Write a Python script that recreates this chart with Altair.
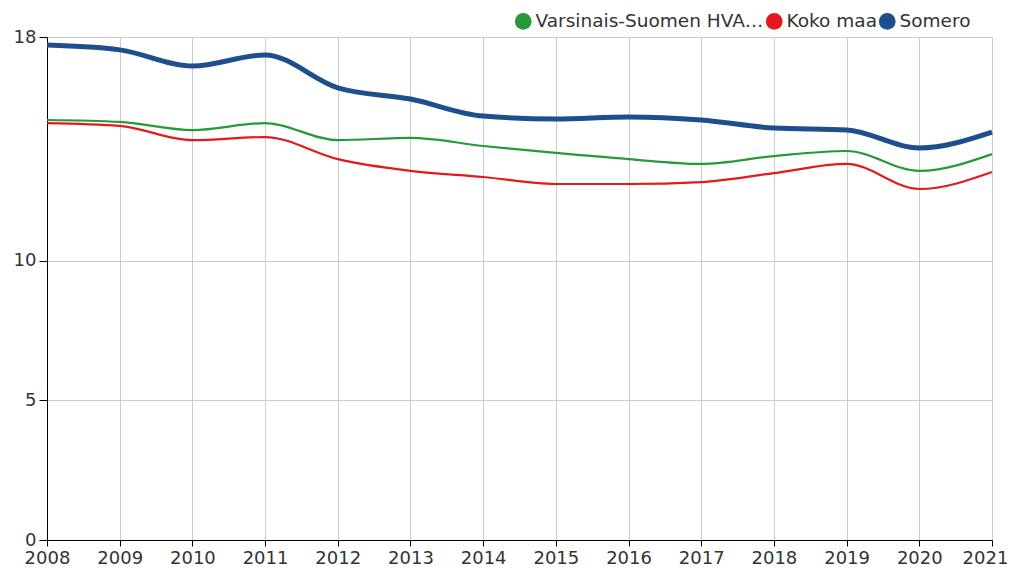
import altair as alt
import pandas as pd

years = list(range(2008, 2022))
series_names = ["Varsinais-Suomen HVA:n alue", "Koko maa", "Somero"]
varsinais = [15.03, 14.96, 14.67, 14.92, 14.31, 14.39, 14.10, 13.85, 13.63, 13.46, 13.74, 13.92, 13.21, 13.81]
koko_maa = [14.92, 14.82, 14.31, 14.42, 13.63, 13.21, 12.99, 12.74, 12.74, 12.81, 13.13, 13.46, 12.56, 13.17]
somero = [17.71, 17.54, 16.96, 17.36, 16.18, 15.78, 15.17, 15.07, 15.14, 15.03, 14.74, 14.67, 14.03, 14.60]
colors = ["#27993a", "#e31a1c", "#1f4e8d"]
widths = [2.2, 2.2, 5]
y_ticks = [0, 5, 10, 18]

rows = []
for name, vals, w in zip(series_names, [varsinais, koko_maa, somero], widths):
    for yr, v in zip(years, vals):
        rows.append({"vuosi": yr, "arvo": v, "sarja": name, "w": w})
df = pd.DataFrame(rows)

x_enc = alt.X("vuosi:Q", scale=alt.Scale(domain=[2008, 2021], nice=False, zero=False),
              axis=alt.Axis(values=years, format="d", title=None, labelFlush=False,
                            tickSize=6, labelPadding=3,
                            labelOffset={"condition": {"test": "datum.value == 2021", "value": -7},
                                         "value": 0}))
y_enc = alt.Y("arvo:Q", scale=alt.Scale(domain=[0, 18], nice=False),
              axis=alt.Axis(values=y_ticks, title=None, tickSize=8, labelPadding=3))
legend = alt.Legend(title=None, orient="none", direction="horizontal",
                    legendX=467, legendY=-25, symbolType="circle",
                    symbolSize=280, symbolStrokeWidth=0, symbolOpacity=1,
                    labelLimit=230, columnPadding=1, labelOffset=3)
color_enc = alt.Color("sarja:N", scale=alt.Scale(domain=series_names, range=colors),
                      legend=legend)

base = alt.Chart(df)
points = base.mark_point(filled=True, opacity=0, size=1).encode(
    x=x_enc, y=y_enc, color=color_enc,
)
lines = base.mark_line(interpolate="monotone").encode(
    x=x_enc, y=y_enc, color=color_enc,
    strokeWidth=alt.StrokeWidth("w:Q", scale=None),
    order=alt.Order("w:Q"),
)

chart = alt.layer(points, lines).properties(
    width=945, height=503,
    autosize=alt.AutoSizeParams(type="none"),
    padding={"left": 39, "top": 29, "right": 15, "bottom": 28},
).configure_axis(
    labelFont="DejaVu Sans", labelFontSize=18, labelColor="#333333",
    gridColor="#cccccc", gridWidth=1, domainColor="#000000", tickColor="#000000",
).configure_legend(
    labelFont="DejaVu Sans", labelFontSize=18.5, labelColor="#333333",
).configure_view(stroke=None)

chart.save("out.html", embed_options={"renderer": "svg", "actions": False})
